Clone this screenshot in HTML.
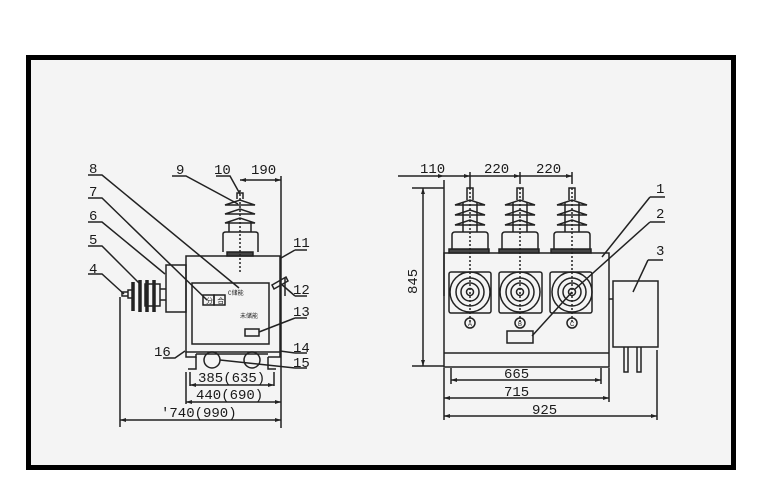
<!DOCTYPE html>
<html><head><meta charset="utf-8"><style>
html,body{margin:0;padding:0;background:#fff;width:764px;height:499px;overflow:hidden}
svg{display:block}
text{font-family:"Liberation Mono",monospace;font-size:14px;fill:#1a1a1a}
</style></head><body>
<svg width="764" height="499" viewBox="0 0 764 499" xmlns="http://www.w3.org/2000/svg">
<rect x="28.5" y="57.5" width="705" height="410" fill="#f4f4f4" stroke="#000" stroke-width="5"/>
<g stroke="#222" stroke-width="1.5" fill="none">
<!-- LEFT VIEW -->
<rect x="186" y="256" width="94" height="96"/>
<rect x="192" y="283" width="77" height="61"/>
<rect x="166" y="265" width="20" height="47"/>
<rect x="203" y="295" width="11" height="10"/><rect x="214" y="295" width="11" height="10"/>
<rect x="245" y="329" width="14" height="7"/>
<path d="M227 252h26v4h-26z" fill="#444"/>
<path d="M223 252v-18q0-2 3-2h29q3 0 3 2v18"/>
<path d="M229 232v-10M251 232v-10"/>
<path d="M225 205l15-5 15 5zM225 214l15-5 15 5zM225 223l15-5 15 5z"/>
<path d="M237 199v-6h6v6"/>
<line x1="240" y1="190" x2="240" y2="272" stroke-dasharray="2 2"/>
<!-- side insulator -->
<path d="M160 289h6M160 300h6"/>
<path d="M145 284h15v22h-15z"/>
<path d="M133 282v29M140 280v32M147 280v32M154 280v32" stroke-width="3.5"/>
<path d="M128 290h5v8h-5zM122 292h6v4h-6z"/>
<!-- 12 handle -->
<path d="M272 285l14-8 2 4-14 8z"/>
<path d="M285 278v18"/>
<!-- feet / wheels -->
<path d="M186 352v5h10v-3M280 352v5h-12"/>
<path d="M196 354h72"/>
<path d="M196 357v12h-8M268 357v12h8"/>
<circle cx="212" cy="360" r="8"/><circle cx="252" cy="360" r="8"/>
<!-- dims left -->
<path d="M240 180h41M281 176v252M120 297v130M190 372v14M274 372v14M186 372v32"/>
<path d="M190 385h84M186 402h95M120 420h161"/>
<!-- leaders left -->
<path d="M88 175h14l137 113M88 198h14l105 102M88 222h14l63 52M88 246h14l38 38M88 274h14l22 20"/>
<path d="M172 176h14l52 28M216 176h14l10 18"/>
<path d="M295 250h12M295 250l-14 8"/>
<path d="M295 296h12M295 296l-15-13"/>
<path d="M295 318h12M295 318l-36 14"/>
<path d="M295 353h12M295 353l-15-2"/>
<path d="M295 368h12M295 368l-75-8"/>
<path d="M163 358h12l10-7"/>
<!-- RIGHT VIEW -->
<rect x="444" y="253" width="165" height="114"/>
<line x1="444" y1="353" x2="609" y2="353"/>
<rect x="449" y="272" width="42" height="41" rx="2"/>
<rect x="499" y="272" width="43" height="41" rx="2"/>
<rect x="550" y="272" width="42" height="41" rx="2"/>
<g>
<circle cx="470" cy="292" r="20"/><circle cx="470" cy="292" r="14"/><circle cx="470" cy="292" r="9"/><circle cx="470" cy="292" r="3.5"/>
<circle cx="520" cy="292" r="20"/><circle cx="520" cy="292" r="14"/><circle cx="520" cy="292" r="9"/><circle cx="520" cy="292" r="3.5"/>
<circle cx="572" cy="292" r="20"/><circle cx="572" cy="292" r="14"/><circle cx="572" cy="292" r="9"/><circle cx="572" cy="292" r="3.5"/>
<circle cx="470" cy="323" r="5"/><circle cx="520" cy="323" r="5"/><circle cx="572" cy="323" r="5"/>
</g>
<rect x="507" y="331" width="26" height="12"/>
<g id="ins">
<path d="M449 253v-4h40v4z" fill="#444"/>
<path d="M452 249v-14q0-3 3-3h30q3 0 3 3v14"/>
<path d="M463 232v-30M477 232v-30"/>
<path d="M455 205l15-5 15 5zM455 215l15-5 15 5zM455 225l15-5 15 5z"/>
<path d="M467 200v-12h6v12"/>
</g>
<use href="#ins" x="50"/><use href="#ins" x="102"/>
<g stroke-dasharray="2 2"><path d="M470 188v135M520 188v135M572 188v135"/></g>
<rect x="613" y="281" width="45" height="66"/>
<path d="M609 299h4"/>
<path d="M624 347v25h4v-25M637 347v25h4v-25"/>
<!-- dims right -->
<path d="M398 176h174M444 180v116M470 172v16M520 172v12M572 172v12"/>
<path d="M423 188v178M412 188h32M412 366h32"/>
<path d="M451 368v16M601 368v16M444 368v52M609 368v34M657 350v70"/>
<path d="M451 380h150M444 398h165M444 416h213"/>
<!-- leaders right -->
<path d="M650 197h15M650 197l-48 60"/>
<path d="M650 222h15M650 222l-76 68"/>
<path d="M648 260h15M648 260l-15 32"/>
<path d="M572 292l-40 44"/>
</g>
<g fill="#222">
<path d="M120 420l6-2v4zM281 420l-6-2v4zM186 402l6-2v4zM281 402l-6-2v4zM190 385l6-2v4zM274 385l-6-2v4zM240 180l6-2v4zM281 180l-6-2v4z"/>
<path d="M444 416l6-2v4zM657 416l-6-2v4zM444 398l6-2v4zM609 398l-6-2v4zM451 380l6-2v4zM601 380l-6-2v4z"/>
<path d="M423 188l-2 6h4zM423 366l-2-6h4zM444 176l-6-2v4zM470 176l-6-2v4zM520 176l-6-2v4zM572 176l-6-2v4z"/>
</g>
<g>
<text x="89" y="173">8</text><text x="89" y="196">7</text><text x="89" y="220">6</text><text x="89" y="244">5</text><text x="89" y="273">4</text>
<text x="176" y="174">9</text><text x="214" y="174">10</text><text x="251" y="174">190</text>
<text x="293" y="247">11</text><text x="293" y="294">12</text><text x="293" y="316">13</text><text x="293" y="352">14</text><text x="293" y="367">15</text>
<text x="154" y="356">16</text>
<text x="198" y="382">385(635)</text><text x="196" y="399">440(690)</text><text x="161" y="417">'740(990)</text>
<text x="228" y="295" style="font-size:6px">C储能</text><text x="240" y="318" style="font-size:6px">未储能</text>
<text x="206" y="303" style="font-size:7px">分 合</text>
<text x="420" y="173">110</text><text x="484" y="173">220</text><text x="536" y="173">220</text>
<text x="656" y="193">1</text><text x="656" y="218">2</text><text x="656" y="255">3</text>
<text x="504" y="378">665</text><text x="504" y="396">715</text><text x="532" y="414">925</text>
<text transform="translate(417,294) rotate(-90)" x="0" y="0">845</text>
<text x="468" y="326" style="font-size:6px;font-family:'Liberation Sans',sans-serif">A</text><text x="518" y="326" style="font-size:6px;font-family:'Liberation Sans',sans-serif">B</text><text x="570" y="326" style="font-size:6px;font-family:'Liberation Sans',sans-serif">C</text>
</g>
</svg>
</body></html>
